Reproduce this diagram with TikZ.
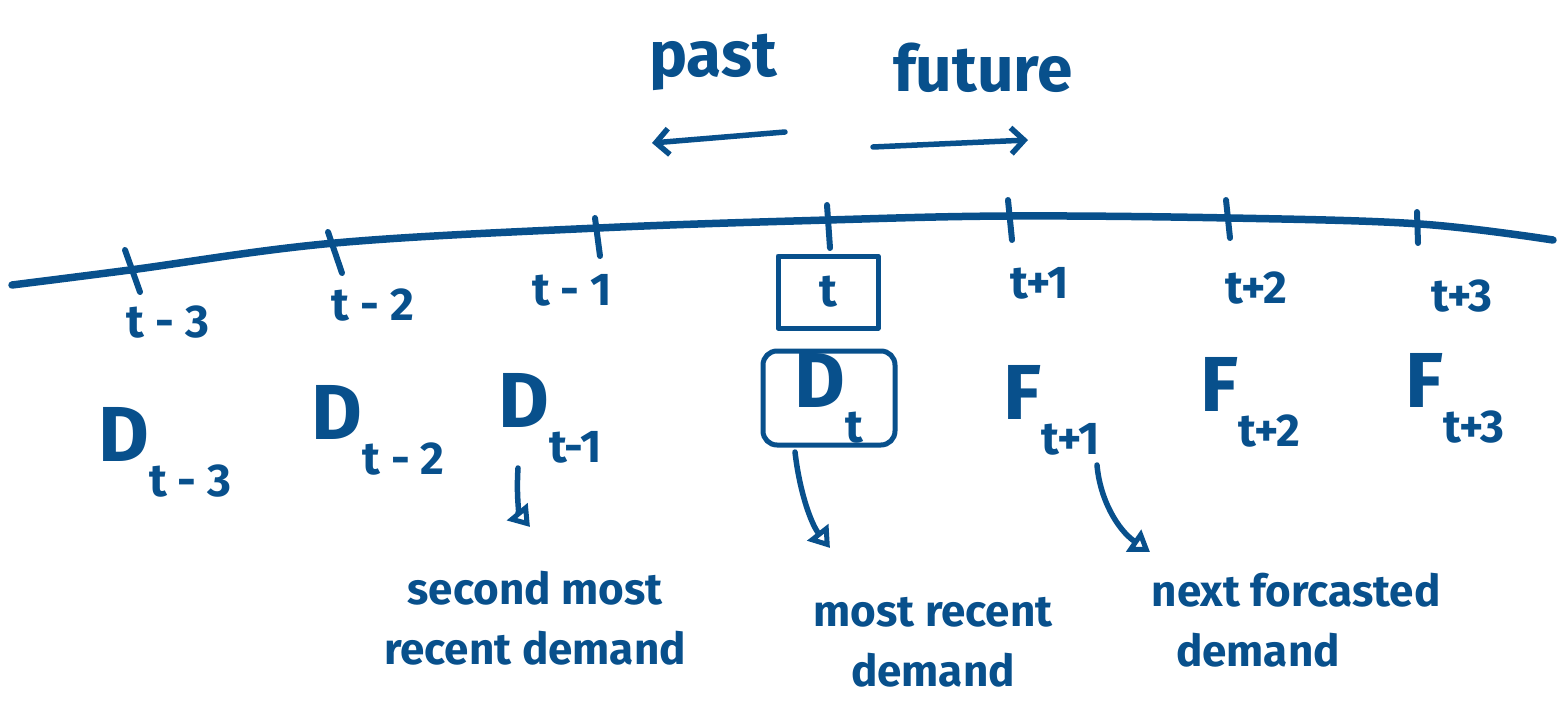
\documentclass[tikz,border=0pt]{standalone}
\usepackage{fontspec}
\setmainfont{Fira Sans}
\usetikzlibrary{arrows.meta}
\definecolor{inkc}{RGB}{8,80,140}
\newcommand\lowsub[1]{\raisebox{-0.45em}{\fontsize{46}{46}\selectfont #1}}
\tikzset{
  ink/.style={draw=inkc, line cap=round, line join=round},
  axis/.style={ink, line width=7.5pt},
  tickmark/.style={ink, line width=6pt},
  lbl/.style={text=inkc, font=\bfseries\fontsize{46}{50}\selectfont, inner sep=0pt},
  big/.style={text=inkc, font=\bfseries\fontsize{78}{80}\selectfont, inner sep=0pt},
  ann/.style={text=inkc, font=\bfseries\fontsize{44}{60}\selectfont, align=center, inner sep=0pt},
  hdr/.style={text=inkc, font=\bfseries\fontsize{64}{64}\selectfont, inner sep=0pt},
  boxed/.style={ink, draw, line width=5pt},
  arr/.style={ink, line width=5.5pt, -{Triangle[open,length=20pt,width=26pt]}},
  dirarr/.style={ink, line width=5.5pt, -{Straight Barb[length=13pt,width=26pt]}},
}
\begin{document}
\begin{tikzpicture}[x=1pt,y=-1pt]
\useasboundingbox (0,0) rectangle (1559,706);

% header
\node[hdr] (past) at (713,62) {past};
\node[hdr] (future) at (983,68) {future};
\coordinate (pastA) at (785,132);
\coordinate (pastB) at (652,143);
\coordinate (futA) at (873,147);
\coordinate (futB) at (1028,140);
\draw[dirarr] (pastA) -- (pastB);
\draw[dirarr] (futA) -- (futB);

% timeline
\draw[axis] plot[smooth, tension=0.6] coordinates {(12,285) (130,270) (335,243) (598,228) (828,220) (1010,216) (1230,218) (1420,224) (1553,240)};

% ticks
\coordinate (k1a) at (125,250); \coordinate (k1b) at (140,292);
\coordinate (k2a) at (328,232); \coordinate (k2b) at (342,273);
\coordinate (k3a) at (595,218); \coordinate (k3b) at (600,256);
\coordinate (k4a) at (827,205); \coordinate (k4b) at (830,248);
\coordinate (k5a) at (1008,200); \coordinate (k5b) at (1012,240);
\coordinate (k6a) at (1226,200); \coordinate (k6b) at (1230,238);
\coordinate (k7a) at (1417,212); \coordinate (k7b) at (1418,243);
\foreach \i in {1,...,7} {\draw[tickmark] (k\i a) -- (k\i b);}

% time labels
\node[lbl] (tm3) at (168,322) {t - 3};
\node[lbl] (tm2) at (373,305) {t - 2};
\node[lbl] (tm1) at (572,290) {t - 1};
\node[lbl, boxed, minimum width=100pt, minimum height=72pt] (t0) at (828,292) {t};
\node[lbl] (tp1) at (1040,283) {t+1};
\node[lbl] (tp2) at (1256,288) {t+2};
\node[lbl] (tp3) at (1462,296) {t+3};

% demand / forecast labels
\node[big] (dm3) at (165,452) {D\lowsub{t - 3}};
\node[big] (dm2) at (378,430) {D\lowsub{t - 2}};
\node[big] (dm1) at (550,418) {D\lowsub{t-1}};
\node[big, boxed, rounded corners=14pt, minimum width=132pt, minimum height=94pt] (d0) at (829,398) {D\lowsub{t}};
\node[big] (fp1) at (1052,410) {F\lowsub{t+1}};
\node[big] (fp2) at (1250,402) {F\lowsub{t+2}};
\node[big] (fp3) at (1455,398) {F\lowsub{t+3}};

% annotations
\node[ann] (n1) at (535,618) {second most\\recent demand};
\node[ann] (n2) at (933,642) {most recent\\demand};
\node[ann] (n3a) at (1296,590) {next forcasted};
\node[ann] (n3b) at (1258,650) {demand};

% arrows
\coordinate (a1s) at (518,468);
\coordinate (a1e) at (530,527);
\coordinate (a2s) at (795,452);
\coordinate (a2e) at (830,548);
\coordinate (a3s) at (1097,465);
\coordinate (a3e) at (1150,552);
\draw[arr] (a1s) .. controls (516,500) and (520,515) .. (a1e);
\draw[arr] (a2s) .. controls (800,495) and (812,525) .. (a2e);
\draw[arr] (a3s) .. controls (1100,500) and (1118,530) .. (a3e);
\end{tikzpicture}
\end{document}
